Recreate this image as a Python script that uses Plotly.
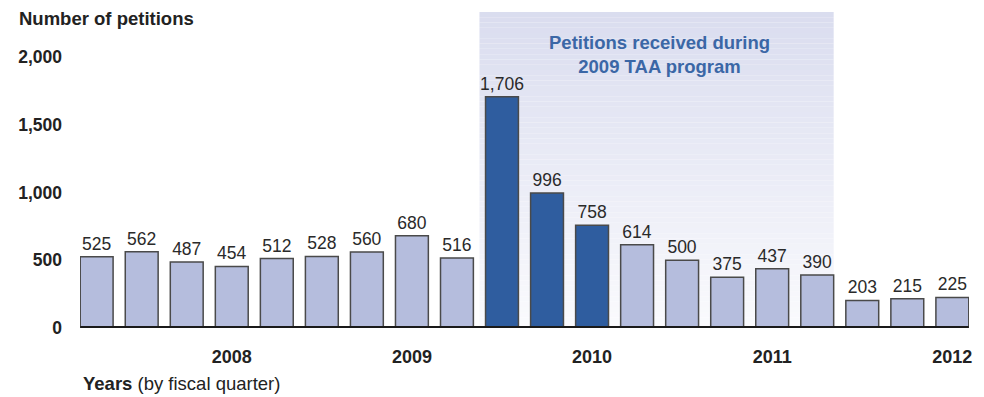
import plotly.graph_objects as go

# ---- data ----
quarters = list(range(20))
petitions = [525, 562, 487, 454, 512, 528, 560, 680, 516, 1706,
             996, 758, 614, 500, 375, 437, 390, 203, 215, 225]
program_quarters = [9, 10, 11]          # bars received during 2009 TAA program
year_tick_pos = [3, 7, 11, 15, 19]
year_tick_text = ["2008", "2009", "2010", "2011", "2012"]
y_tick_vals = [0, 500, 1000, 1500, 2000]
y_tick_text = ["0", "500", "1,000", "1,500", "2,000"]

LIGHT = "#b5bddd"
DARK = "#2f5d9f"
OUTLINE = "#4a4a4a"
BAR_WIDTH = 0.73
Y_MAX = 2330
FONT = "Liberation Sans, Arial"

colors = [DARK if q in program_quarters else LIGHT for q in quarters]
labels = [f"{v:,}" for v in petitions]

fig = go.Figure()
fig.add_trace(go.Bar(
    x=quarters, y=petitions, width=BAR_WIDTH,
    marker=dict(color=colors, line=dict(color=OUTLINE, width=1.5)),
    text=labels, textposition="outside", cliponaxis=False, constraintext="none",
    textfont=dict(family=FONT, size=17.5, color="#2a2a2a"),
    hoverinfo="skip", showlegend=False,
))

# gradient shaded region behind program period
x0 = 8.5
x1 = 16 + BAR_WIDTH / 2
n = 60
top_c = (218, 221, 239)
bot_c = (250, 250, 253)
for i in range(n):
    t = i / (n - 1)
    c = tuple(round(bot_c[k] + (top_c[k] - bot_c[k]) * t) for k in range(3))
    fig.add_shape(type="rect", xref="x", yref="y", layer="below",
                  x0=x0, x1=x1, y0=Y_MAX * i / n, y1=Y_MAX * (i + 1) / n,
                  fillcolor=f"rgb{c}", line=dict(width=0))

# thick baseline
fig.add_shape(type="line", xref="x", yref="y", layer="above",
              x0=-BAR_WIDTH / 2, x1=19 + BAR_WIDTH / 2, y0=0, y1=0,
              line=dict(color="#1a1a1a", width=4))

fig.add_annotation(x=12.5, y=2015, xref="x", yref="y",
                   text="<b>Petitions received during<br>2009 TAA program</b>",
                   showarrow=False, align="center",
                   font=dict(family=FONT, size=18.5, color="#3b67a6"))

fig.add_annotation(x=0, y=1, xref="paper", yref="paper", xanchor="left", yanchor="middle",
                   xshift=-63, yshift=-6,
                   text="<b>Number of petitions</b>", showarrow=False,
                   font=dict(family=FONT, size=18.5, color="#222"))

fig.add_annotation(x=0, y=0, xref="paper", yref="paper", xanchor="left", yanchor="middle",
                   xshift=1, yshift=-55,
                   text="<b>Years</b> (by fiscal quarter)", showarrow=False,
                   font=dict(family=FONT, size=18.5, color="#222"))

fig.update_layout(
    width=976, height=389,
    margin=dict(l=72, r=15, t=4, b=69, autoexpand=False),
    paper_bgcolor="white", plot_bgcolor="white",
    bargap=0.27,
    xaxis=dict(range=[-BAR_WIDTH / 2 - 0.005, 19 + BAR_WIDTH / 2 + 0.005],
               tickvals=year_tick_pos, ticktext=year_tick_text,
               showgrid=False, zeroline=False, showline=False, ticks="",
               ticklabelstandoff=16, automargin=False,
               tickfont=dict(family=FONT, size=18, color="#222", weight="bold")),
    yaxis=dict(range=[0, Y_MAX], tickvals=y_tick_vals, ticktext=y_tick_text,
               showgrid=False, zeroline=False, showline=False, ticks="",
               ticklabelstandoff=17, automargin=False,
               tickfont=dict(family=FONT, size=17.5, color="#222", weight="bold")),
)

fig.write_html("out.html")
